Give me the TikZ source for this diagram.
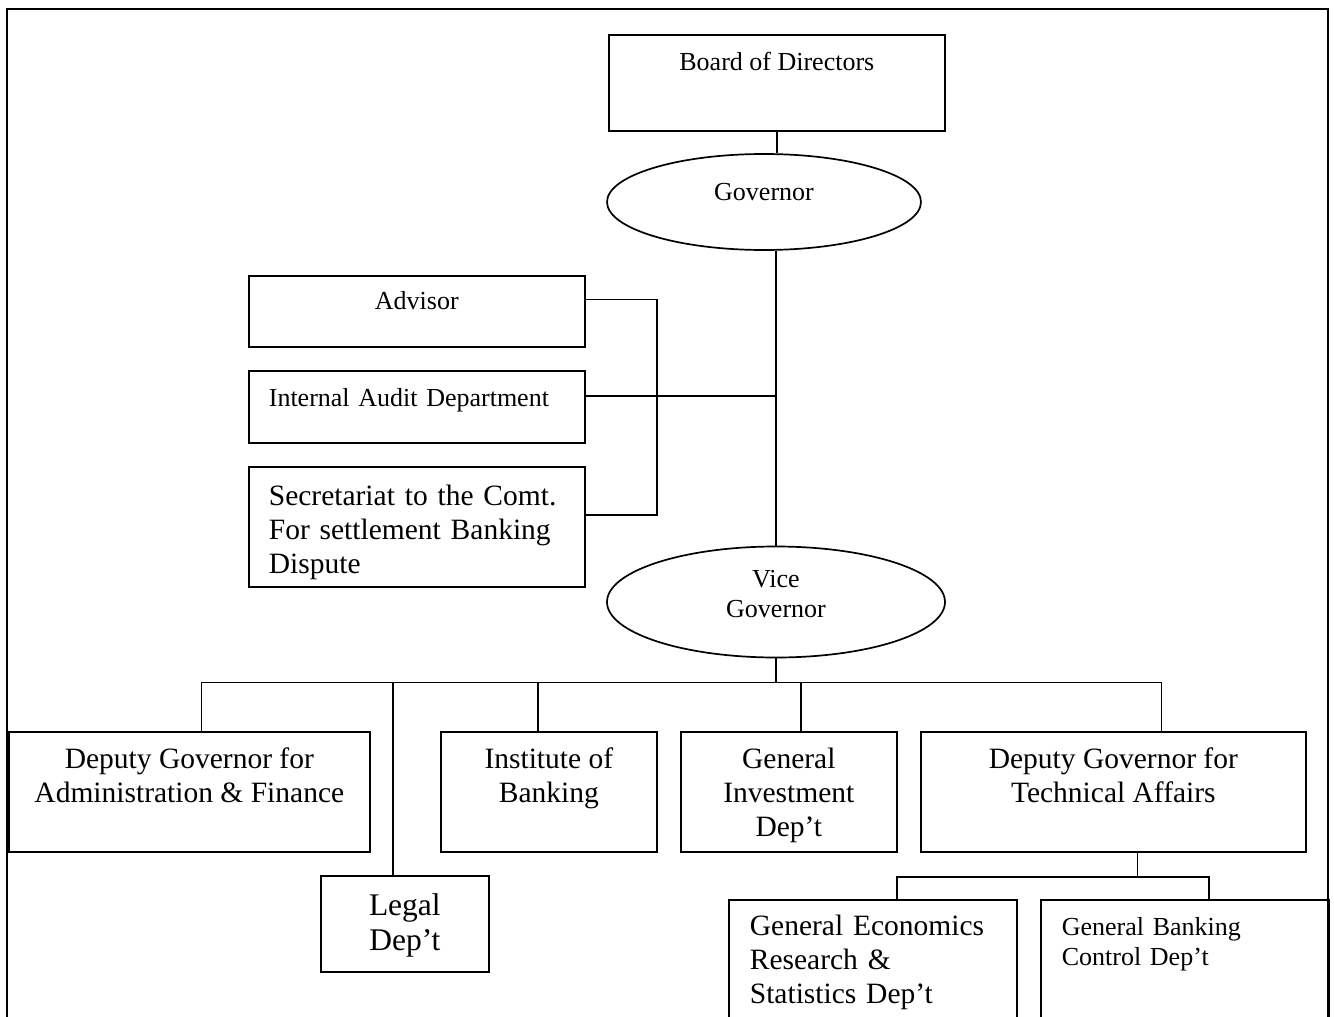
\documentclass[tikz,border=0pt]{standalone}
\usepackage{fontspec}
\setmainfont{Liberation Serif}
\usetikzlibrary{shapes.geometric, calc}

\begin{document}
\begin{tikzpicture}[
    x=1pt, y=-1pt,
    unit/.style={draw, rectangle, inner sep=0pt, anchor=north west, line width=1.7pt},
    head/.style={draw, ellipse, inner sep=0pt, line width=1.7pt, align=center},
    smallfont/.style={font=\fontsize{26}{30}\selectfont},
    bigfont/.style={font=\fontsize{29.5}{34}\selectfont},
    largefont/.style={font=\fontsize{31.5}{35}\selectfont},
    link/.style={line width=1.7pt}
]
\useasboundingbox (0,0) rectangle (1334,1017);

% Outer frame, open at the bottom
\draw[line width=2.6pt] (7,1017) -- (7,9) -- (1328,9) -- (1328,1017);

% Top of the hierarchy
\node[unit, smallfont, minimum width=336pt, minimum height=96pt, text height=36pt, text depth=60pt] (board) at (608,34) {Board of Directors};
\node[head, smallfont, minimum width=314pt, minimum height=96pt, text height=20pt, text depth=23pt] (gov) at (764,202) {Governor};

% Staff units reporting to the governor
\node[unit, smallfont, minimum width=336pt, minimum height=71pt, text height=34pt, text depth=37pt] (advisor) at (248,275) {Advisor};
\node[unit, smallfont, align=left, text width=296pt, inner xsep=20pt, minimum height=72pt, text height=36pt, text depth=36pt] (audit) at (248,370) {Internal Audit Department};
\node[unit, bigfont, align=left, text width=296pt, inner xsep=20pt, minimum height=120pt, text height=39pt, text depth=81pt] (secretariat) at (248,466) {Secretariat to the Comt.\\For settlement Banking\\Dispute};

\node[head, smallfont, minimum width=338pt, minimum height=111pt, text height=50pt, text depth=19pt] (vice) at (776,602) {Vice\\Governor};

% Departments under the vice governor
\node[unit, bigfont, align=center, minimum width=361pt, minimum height=120pt, text height=71pt, text depth=49pt] (dgaf) at (8,731) {Deputy Governor for\\Administration \& Finance};
\node[unit, largefont, align=center, minimum width=168pt, minimum height=96pt, text height=75pt, text depth=21pt] (legal) at (320,875) {Legal\\Dep't};
\node[unit, bigfont, align=center, minimum width=216pt, minimum height=120pt, text height=71pt, text depth=49pt] (institute) at (440,731) {Institute of\\Banking};
\node[unit, bigfont, align=center, minimum width=216pt, minimum height=120pt, text height=105pt, text depth=15pt] (investment) at (680,731) {General\\Investment\\Dep't};
\node[unit, bigfont, align=center, minimum width=385pt, minimum height=120pt, text height=71pt, text depth=49pt] (technical) at (920,731) {Deputy Governor for\\Technical Affairs};

% Under the technical deputy
\node[unit, bigfont, align=left, text width=246pt, inner xsep=21pt, minimum height=140pt, text height=36pt, text depth=104pt] (economics) at (728,899) {General Economics\\Research \&\\Statistics Dep't};
\node[unit, smallfont, align=left, text width=246pt, inner xsep=21pt, minimum height=140pt, text height=36pt, text depth=104pt] (banking) at (1040,899) {General Banking\\Control Dep't};

% Chain of command
\draw[link] (board.south) -- (board.south |- gov.north);
\draw[link] (vice.north) -- (vice.north |- gov.south);
\draw[link] ([yshift=11pt]audit.east) -- ([yshift=11pt]audit.east -| vice.north);
\draw[link] ([yshift=12pt]advisor.east) -| ([xshift=71pt,yshift=12pt]secretariat.east) -- ([yshift=12pt]secretariat.east);

% Bus below the vice governor
\coordinate (hub) at ([yshift=-24pt]vice.south);
\draw[link] (vice.south) -- (hub);
\draw[link] ([xshift=12pt]dgaf.north) |- (hub) -| ([xshift=48pt]technical.north);
\draw[link] ([xshift=-12pt]legal.north) -- ([xshift=-12pt]legal.north |- hub);
\draw[link] ([xshift=-11pt]institute.north) -- ([xshift=-11pt]institute.north |- hub);
\draw[link] ([xshift=12pt]investment.north) -- ([xshift=12pt]investment.north |- hub);

% Bus below the technical deputy
\coordinate (subhub) at ([xshift=24pt,yshift=-24pt]technical.south);
\draw[link] ([xshift=24pt]technical.south) -- (subhub);
\draw[link] ([xshift=24pt]economics.north) |- (subhub) -| ([xshift=24pt]banking.north);

\end{tikzpicture}
\end{document}
